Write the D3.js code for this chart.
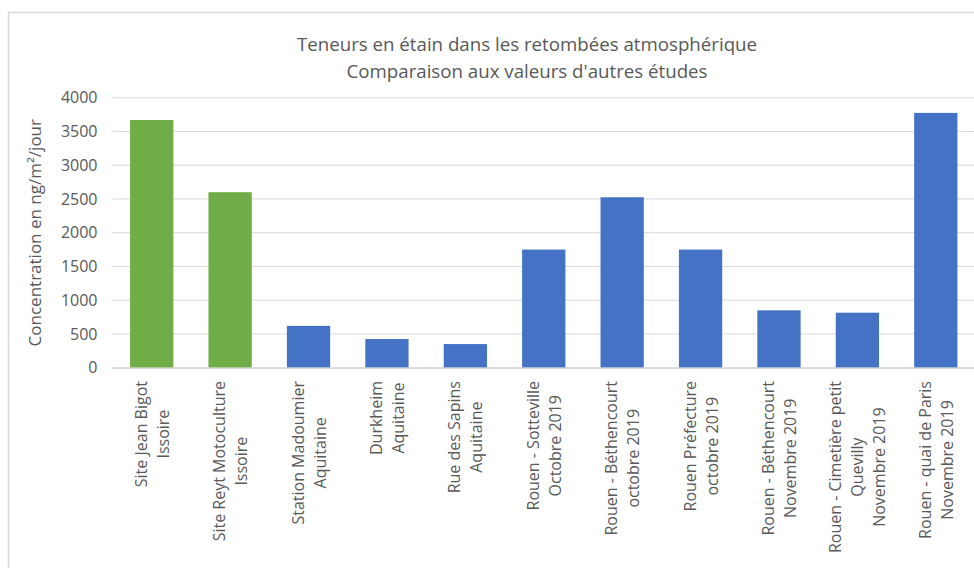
<!DOCTYPE html>
<html>
<head>
<meta charset="utf-8">
<script src="https://cdn.jsdelivr.net/npm/d3@7"></script>
<style>
  body { margin: 0; background: #fff; }
  text { font-family: "Open Sans", sans-serif; fill: #595959; }
</style>
</head>
<body>
<svg id="chart" width="974" height="568"></svg>
<script>
// Sites (each label split into lines as in the chart)
const sites = [
    ["Site Jean Bigot", "Issoire"],
    ["Site Reyt Motoculture", "Issoire"],
    ["Station Madoumier", "Aquitaine"],
    ["Durkheim", "Aquitaine"],
    ["Rue des Sapins", "Aquitaine"],
    ["Rouen - Sotteville", "Octobre 2019"],
    ["Rouen - Béthencourt", "octobre 2019"],
    ["Rouen Préfecture", "octobre 2019"],
    ["Rouen - Béthencourt", "Novembre 2019"],
    ["Rouen - Cimetière petit", "Quevilly", "Novembre 2019"],
    ["Rouen - quai de Paris", "Novembre 2019"]
];
const tin = [3670, 2600, 620, 425, 350, 1750, 2525, 1750, 850, 815, 3775];
const group = ["issoire", "issoire", "autre", "autre", "autre", "autre", "autre", "autre", "autre", "autre", "autre"];
const yTicks = [0, 500, 1000, 1500, 2000, 2500, 3000, 3500, 4000];

const colors = { issoire: "#70ad47", autre: "#4472c4" };

const svg = d3.select("#chart");

// chart frame (cut off on the right and bottom)
svg.append("path")
    .attr("d", "M8.5,568 V12.5 H974")
    .attr("fill", "none")
    .attr("stroke", "#d9d9d9")
    .attr("stroke-width", 1.5);

const plotLeft = 112.5, plotRight = 975, plotTop = 97.7, plotBottom = 367.7;

const x = d3.scaleBand()
    .domain(d3.range(sites.length))
    .range([plotLeft, plotRight])
    .paddingInner(0.448)
    .paddingOuter(0.224);

const y = d3.scaleLinear()
    .domain([0, 4000])
    .range([plotBottom, plotTop]);

// gridlines
svg.append("g")
    .selectAll("line")
    .data(yTicks)
    .enter()
    .append("line")
    .attr("x1", plotLeft)
    .attr("x2", plotRight)
    .attr("y1", d => y(d))
    .attr("y2", d => y(d))
    .attr("stroke", "#d9d9d9")
    .attr("stroke-width", 1);

// y tick labels
const yAxis = svg.append("g")
    .attr("transform", `translate(${plotLeft - 15},0)`)
    .call(d3.axisLeft(y).tickValues(yTicks).tickFormat(d3.format("d")).tickSize(0).tickPadding(0));
yAxis.select(".domain").remove();
yAxis.selectAll("text")
    .attr("font-size", "16px")
    .attr("font-family", "Open Sans, sans-serif")
    .attr("fill", "#595959");

// bars
svg.append("g")
    .selectAll("rect")
    .data(tin)
    .enter()
    .append("rect")
    .attr("x", (_, i) => x(i))
    .attr("y", d => y(d))
    .attr("width", x.bandwidth())
    .attr("height", d => y(0) - y(d))
    .attr("fill", (_, i) => colors[group[i]]);

// x axis line
svg.append("line")
    .attr("x1", plotLeft)
    .attr("x2", plotRight)
    .attr("y1", y(0) + 0.5)
    .attr("y2", y(0) + 0.5)
    .attr("stroke", "#d9d9d9")
    .attr("stroke-width", 1.5);

// category labels, rotated, lines centred on each other
const labelTop = 381;
const lineGap = 22;
sites.forEach((lines, i) => {
    const cx = x(i) + x.bandwidth() / 2;
    const g = svg.append("g");
    const texts = lines.map(ln => g.append("text")
        .attr("font-size", "16px")
        .attr("text-anchor", "middle")
        .attr("dominant-baseline", "central")
        .text(ln));
    const maxLen = d3.max(texts, t => t.node().getComputedTextLength());
    const cy = labelTop + maxLen / 2;
    texts.forEach((t, k) => {
        const lx = cx + (k - (lines.length - 1) / 2) * lineGap;
        t.attr("transform", `translate(${lx},${cy}) rotate(-90)`);
    });
});

// y axis title
svg.append("text")
    .attr("transform", `translate(34,${(plotTop + plotBottom) / 2}) rotate(-90)`)
    .attr("text-anchor", "middle")
    .attr("dominant-baseline", "central")
    .attr("font-size", "17px")
    .text("Concentration en ng/m²/jour");

// title
const title = svg.append("text")
    .attr("text-anchor", "middle")
    .attr("font-size", "18.7px");
title.append("tspan").attr("x", 527).attr("y", 51)
    .text("Teneurs en étain dans les retombées atmosphérique");
title.append("tspan").attr("x", 527).attr("y", 78)
    .text("Comparaison aux valeurs d'autres études");
</script>
</body>
</html>
